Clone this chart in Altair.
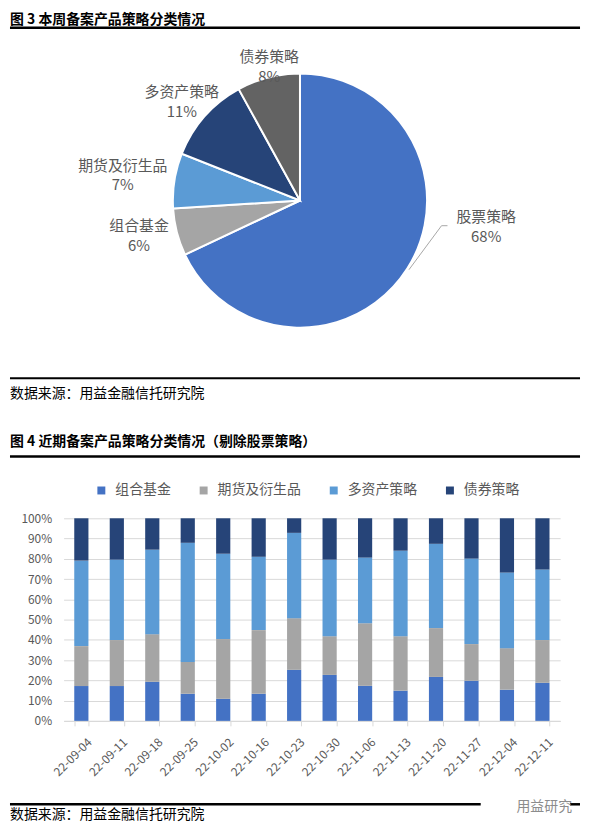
import math
import altair as alt
import pandas as pd

FONT = "Noto Sans CJK SC"
TXT = "#595959"
GRID = "#D9D9D9"

# ---------------- Figure 3: pie ----------------
pie_cats = ["股票策略", "组合基金", "期货及衍生品", "多资产策略", "债券策略"]
pie_vals = [68, 6, 7, 11, 8]
pie_colors = ["#4472C4", "#A5A5A5", "#5B9BD5", "#264478", "#636363"]

# label placement (annotation layout): angle clockwise from 12 o'clock, distance from centre
label_angle_deg = [98.0, 257.5, 278.0, 309.9, 347.0]
label_radius = [189.4, 166.0, 180.2, 155.1, 137.5]

# ---------------- Figure 4: stacked bars ----------------
dates = ["22-09-04", "22-09-11", "22-09-18", "22-09-25", "22-10-02", "22-10-16", "22-10-23",
         "22-10-30", "22-11-06", "22-11-13", "22-11-20", "22-11-27", "22-12-04", "22-12-11"]
series = ["组合基金", "期货及衍生品", "多资产策略", "债券策略"]
bar_colors = ["#4472C4", "#A5A5A5", "#5B9BD5", "#264478"]
fund = [17.2, 17.2, 19.3, 13.4, 10.9, 13.4, 25.2, 22.7, 17.3, 14.9, 21.7, 19.8, 15.4, 18.8]
futures = [19.7, 22.7, 23.5, 15.7, 29.5, 31.4, 25.5, 19.1, 30.9, 26.9, 24.1, 18.1, 20.5, 21.1]
multi = [42.2, 39.7, 41.7, 58.8, 42.1, 36.2, 42.1, 37.8, 32.4, 42.2, 41.6, 42.2, 37.3, 34.8]
bond = [20.9, 20.4, 15.5, 12.1, 17.5, 19.0, 7.2, 20.4, 19.4, 16.0, 12.6, 19.9, 26.8, 25.3]

TITLE3 = "图 3  本周备案产品策略分类情况"
TITLE4 = "图 4  近期备案产品策略分类情况（剔除股票策略）"
SOURCE = "数据来源：用益金融信托研究院"
WATERMARK = "用益研究"

# ---------------- geometry ----------------
W = 500
HA = 380
LEFT = -54
RIGHT = 520
CX, CY, R = 238, 189, 128


def one():
    return alt.Data(values=[{"a": 1}])


def polar(angle_deg, r):
    a = math.radians(angle_deg)
    return CX + r * math.sin(a), CY - r * math.cos(a)


rows = []
for i, (c, v) in enumerate(zip(pie_cats, pie_vals)):
    lx, ly = polar(label_angle_deg[i], label_radius[i])
    rows.append({"cat": c, "value": v, "idx": i, "pct": f"{v}%", "lx": lx, "ly": ly})
pie_df = pd.DataFrame(rows)

# leader line for the biggest slice: from slice mid-angle to its label
mid0 = pie_vals[0] / sum(pie_vals) / 2 * 360
sx, sy = polar(mid0, R + 2)
lx0, ly0 = rows[0]["lx"], rows[0]["ly"]
leader_df = pd.DataFrame({"px": [sx, lx0 - 45, lx0 - 39], "py": [sy, ly0 - 1, ly0 - 1], "o": [0, 1, 2]})

PX = alt.Scale(domain=[0, W], range=[0, W])
PY = alt.Scale(domain=[0, HA], range=[0, HA])

arc = alt.Chart(pie_df).mark_arc(radius=R, stroke="white", strokeWidth=2).encode(
    theta=alt.Theta("value:Q", stack=True),
    color=alt.Color("cat:N", scale=alt.Scale(domain=pie_cats, range=pie_colors), legend=None),
    order=alt.Order("idx:Q"),
    x=alt.value(CX),
    y=alt.value(CY),
)
names = alt.Chart(pie_df).mark_text(font=FONT, fontSize=15, color=TXT, dy=-10, baseline="middle").encode(
    x=alt.X("lx:Q", scale=PX, axis=None), y=alt.Y("ly:Q", scale=PY, axis=None), text="cat:N")
pcts = alt.Chart(pie_df).mark_text(font=FONT, fontSize=15, color=TXT, dy=10, baseline="middle").encode(
    x=alt.X("lx:Q", scale=PX, axis=None), y=alt.Y("ly:Q", scale=PY, axis=None), text="pct:N")
leader = alt.Chart(leader_df).mark_line(color="#A6A6A6", strokeWidth=1).encode(
    x=alt.X("px:Q", scale=PX, axis=None), y=alt.Y("py:Q", scale=PY, axis=None), order="o:Q")


def text_at(txt, x, y, size=14, bold=False, color="black", align="left"):
    return alt.Chart(one()).mark_text(text=txt, font=FONT, fontSize=size, fontWeight="bold" if bold else "normal",
                                      color=color, align=align, baseline="middle").encode(
        x=alt.value(x), y=alt.value(y))


def hline(y, x1=LEFT, x2=RIGHT, w=2.5, opacity=1):
    return alt.Chart(one()).mark_rule(color="black", strokeWidth=w, strokeCap="butt", opacity=opacity).encode(
        x=alt.value(x1), x2=alt.value(x2), y=alt.value(y))


panel_a = alt.layer(
    hline(-2, w=0.5, opacity=0),  # invisible headroom so the bold title glyphs are not clipped
    arc, leader, names, pcts,
    text_at(TITLE3, LEFT, 7, bold=True),
    hline(15),
    hline(368, w=2.2),
    text_at(SOURCE, LEFT, 383.5),
).properties(width=W, height=HA)

# ---------------- bars ----------------
brows = []
for k, (s, vals) in enumerate(zip(series, [fund, futures, multi, bond])):
    for d, v in zip(dates, vals):
        brows.append({"date": d, "series": s, "value": v / 100.0, "idx": k})
bar_df = pd.DataFrame(brows)

bars = alt.Chart(bar_df).mark_bar().encode(
    x=alt.X("date:N", sort=dates,
            scale=alt.Scale(paddingInner=0.6, paddingOuter=0.3),
            axis=alt.Axis(title=None, labelAngle=-45, labelAlign="right", labelBaseline="middle",
                          labelOffset=8, labelPadding=14, labelFontSize=12, labelColor=TXT, labelFont=FONT,
                          domainColor=GRID, tickColor=GRID, tickSize=5, tickBand="extent", grid=False)),
    y=alt.Y("value:Q", stack="zero", scale=alt.Scale(domain=[0, 1], nice=False),
            axis=alt.Axis(title=None, format=".0%", values=[i / 10 for i in range(11)], domain=False,
                          ticks=False, labelPadding=12, gridColor=GRID, labelFontSize=12,
                          labelColor=TXT, labelFont=FONT)),
    color=alt.Color("series:N", scale=alt.Scale(domain=series, range=bar_colors),
                    legend=alt.Legend(title=None, orient="none", legendX=31, legendY=-35,
                                      direction="horizontal", columns=4, symbolType="square",
                                      symbolSize=64, symbolStrokeWidth=0, labelFontSize=14,
                                      labelColor=TXT, labelFont=FONT, columnPadding=26, labelOffset=7,
                                      padding=0)),
    order=alt.Order("idx:Q"),
)

panel_b = alt.layer(
    bars,
    text_at(TITLE4, LEFT, -76.3, bold=True),
    hline(-62.3),
    hline(288, LEFT, 420),
    hline(288, 510, RIGHT),
    text_at(WATERMARK, 484, 291, size=14, color="#8C8C8C", align="center"),
    text_at(SOURCE, LEFT, 299),
).properties(width=W, height=204)

chart = (
    alt.vconcat(panel_a, panel_b, spacing=34)
    .resolve_scale(color="independent")
    .properties(padding=0)
    .configure(font=FONT)
    .configure_view(stroke="transparent", strokeWidth=0)
)

chart.save("out.html", embed_options={"renderer": "svg", "actions": False})
